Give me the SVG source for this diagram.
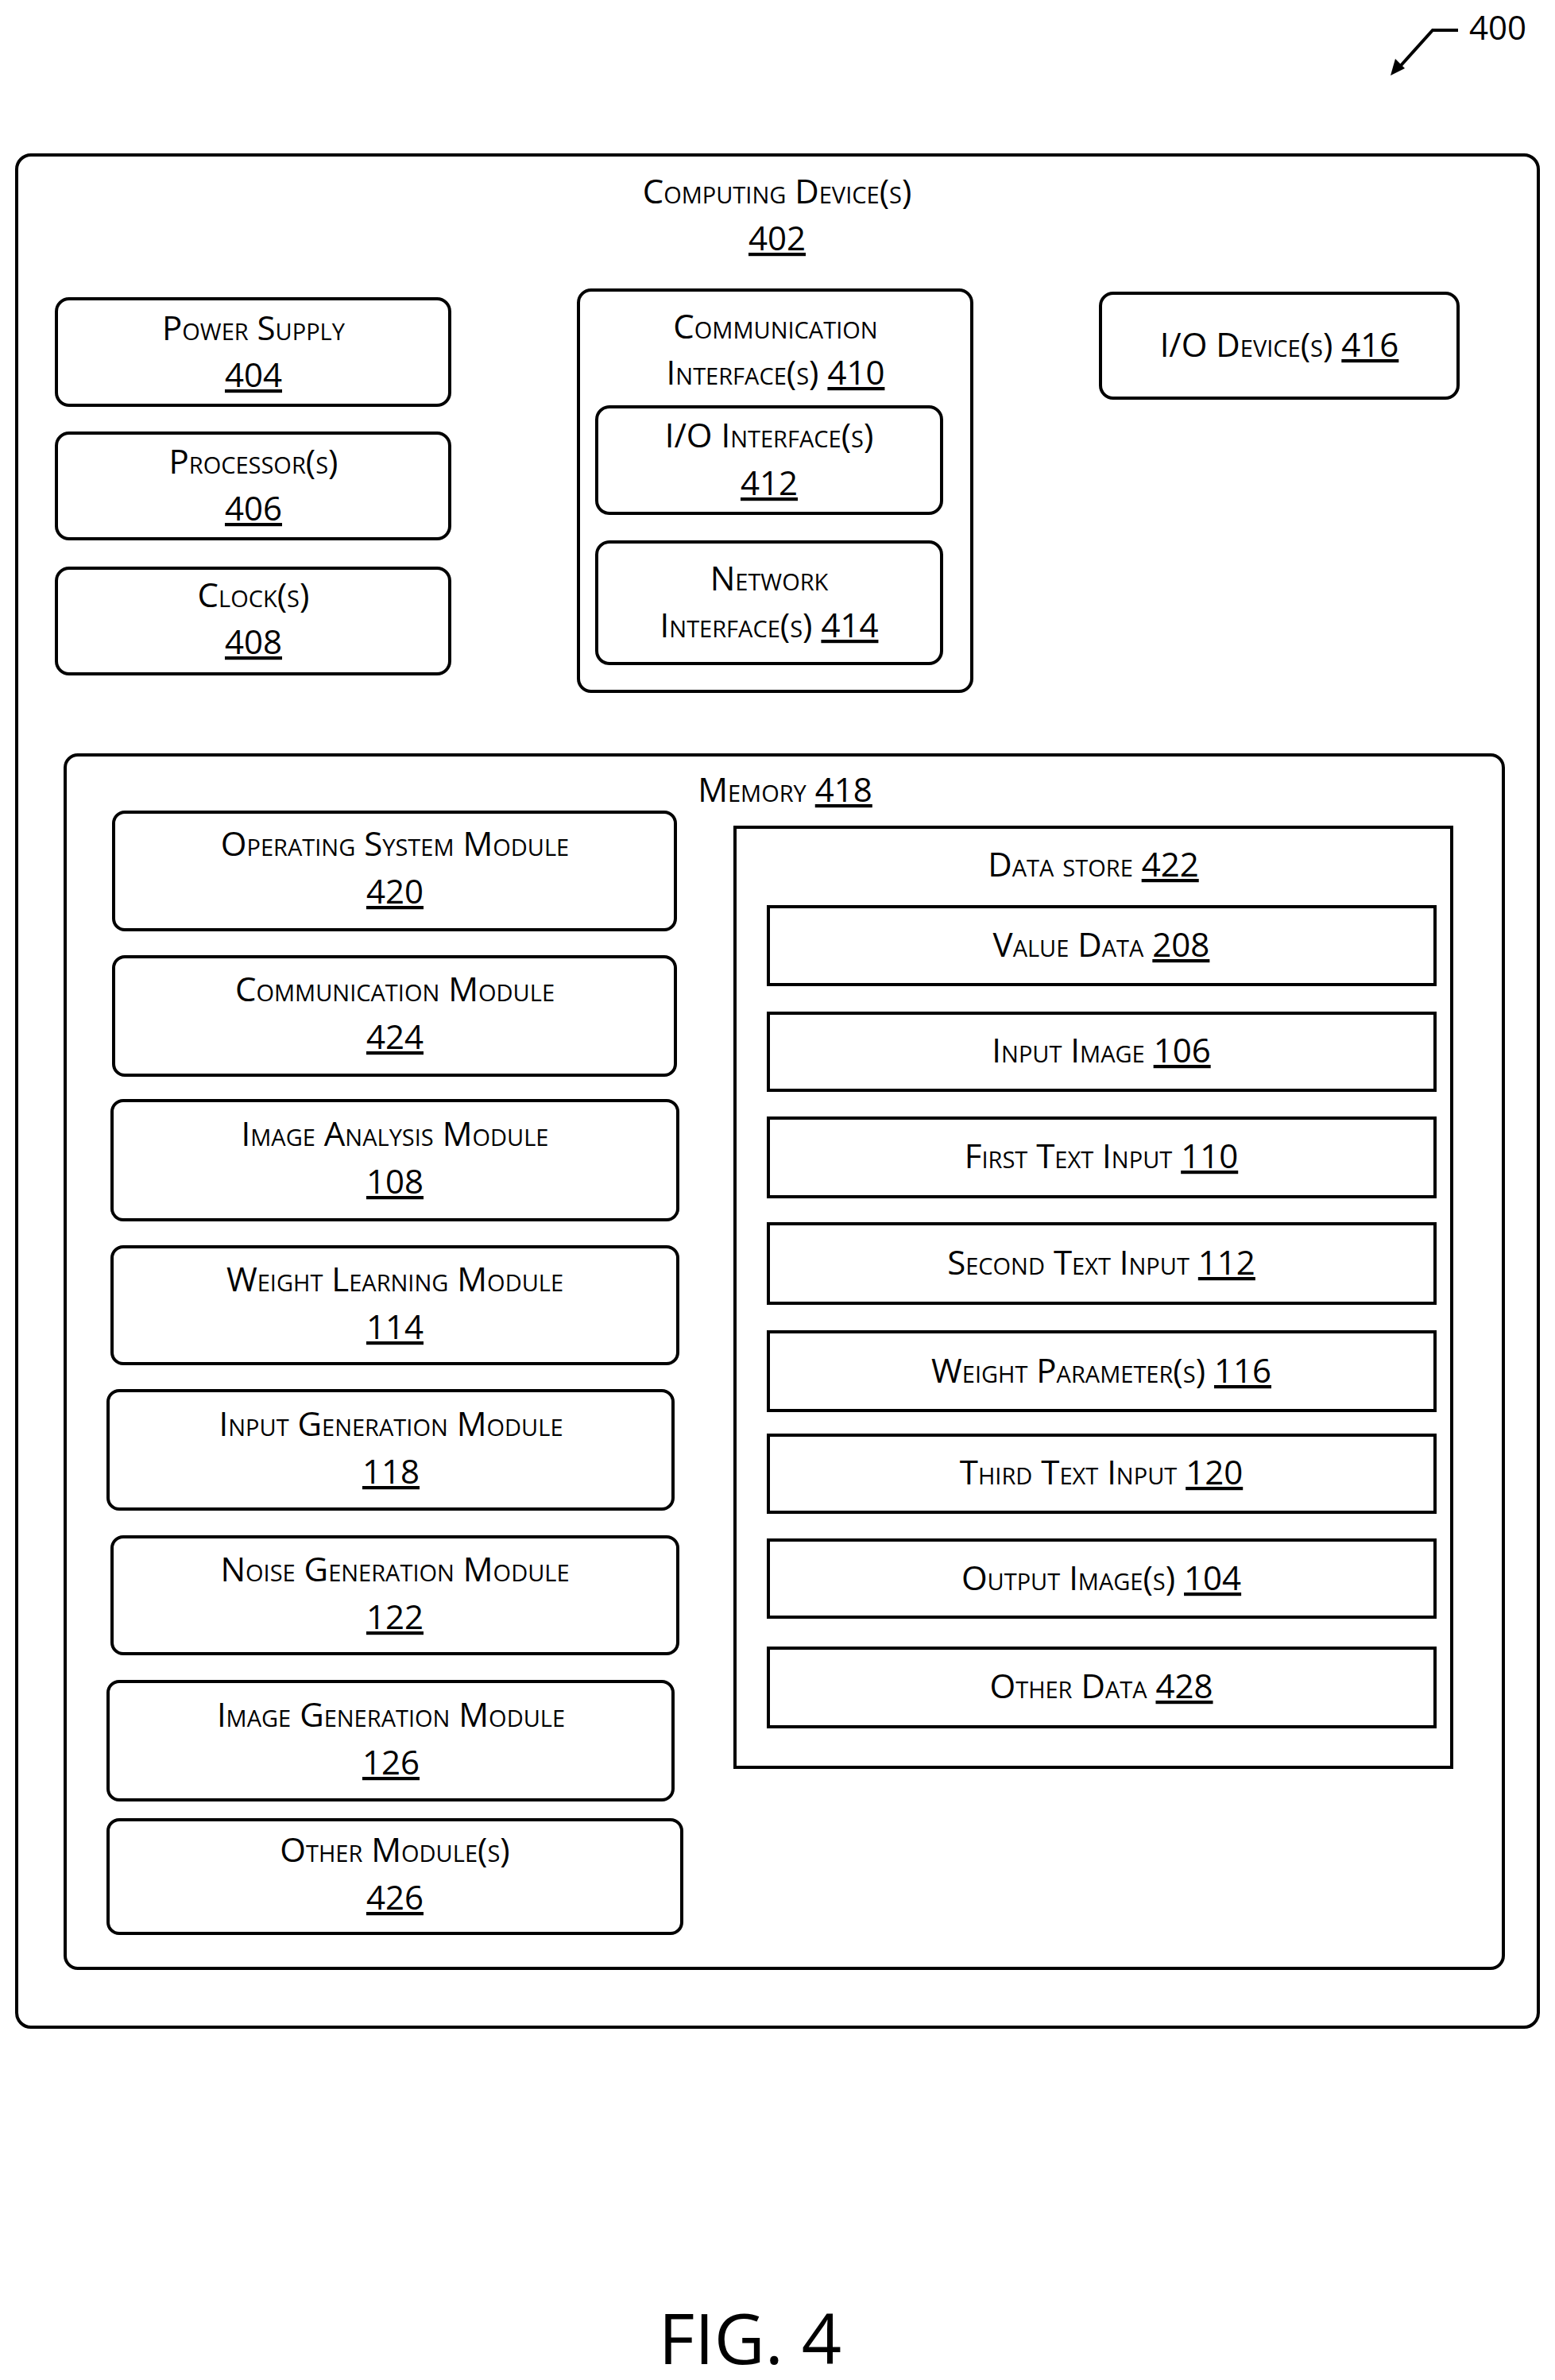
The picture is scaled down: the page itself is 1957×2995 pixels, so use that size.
<svg xmlns="http://www.w3.org/2000/svg" width="1957" height="2995" viewBox="0 0 1957 2995">
<style>
.b{fill:#fff;stroke:#000;stroke-width:4}
.s{fill:none;stroke:#000;stroke-width:4}
text{font-family:"Open Sans","Liberation Sans",sans-serif;font-size:42px;font-variant:small-caps;text-anchor:middle;fill:#000}
.u{text-decoration:underline}
</style>
<g id="ref400">
<text x="1885" y="50" style="font-variant:normal">400</text>
<path d="M1835,38 L1803,38 L1758,88" fill="none" stroke="#000" stroke-width="4"/>
<path d="M1750,95 L1756,74 L1768,86 Z" fill="#000"/>
</g>
<g id="n402"><rect class="s" x="21" y="195" width="1915" height="2356" rx="18"/>
<text x="978" y="256">Computing Device(s)</text><text x="978" y="315" class="u">402</text></g>
<g id="n404"><rect class="b" x="71" y="376" width="495" height="134" rx="16"/><text x="319" y="428">Power Supply</text><text x="319" y="487" class="u">404</text></g>
<g id="n406"><rect class="b" x="71" y="545" width="495" height="133" rx="16"/><text x="319" y="596">Processor(s)</text><text x="319" y="655" class="u">406</text></g>
<g id="n408"><rect class="b" x="71" y="715" width="495" height="133" rx="16"/><text x="319" y="764">Clock(s)</text><text x="319" y="823" class="u">408</text></g>
<g id="n410"><rect class="b" x="728" y="365" width="495" height="505" rx="16"/><text x="976" y="426">Communication</text><text x="976" y="484">Interface(s) <tspan class="u">410</tspan></text></g>
<g id="n412"><rect class="b" x="751" y="512" width="434" height="134" rx="16"/><text x="968" y="563">I/O Interface(s)</text><text x="968" y="623" class="u">412</text></g>
<g id="n414"><rect class="b" x="751" y="682" width="434" height="153" rx="16"/><text x="968" y="743">Network</text><text x="968" y="802">Interface(s) <tspan class="u">414</tspan></text></g>
<g id="n416"><rect class="b" x="1385" y="369" width="450" height="132" rx="16"/><text x="1610" y="449">I/O Device(s) <tspan class="u">416</tspan></text></g>
<g id="n418"><rect class="s" x="82" y="950" width="1810" height="1527" rx="16"/><text x="988" y="1009">Memory <tspan class="u">418</tspan></text></g>
<g id="n420"><rect class="b" x="143" y="1022" width="707" height="148" rx="14"/><text x="497" y="1077">Operating System Module</text><text x="497" y="1137" class="u">420</text></g>
<g id="n424"><rect class="b" x="143" y="1204" width="707" height="149" rx="14"/><text x="497" y="1260">Communication Module</text><text x="497" y="1320" class="u">424</text></g>
<g id="n108"><rect class="b" x="141" y="1385" width="712" height="150" rx="14"/><text x="497" y="1442">Image Analysis Module</text><text x="497" y="1502" class="u">108</text></g>
<g id="n114"><rect class="b" x="141" y="1569" width="712" height="147" rx="14"/><text x="497" y="1625">Weight Learning Module</text><text x="497" y="1685" class="u">114</text></g>
<g id="n118"><rect class="b" x="136" y="1750" width="711" height="149" rx="14"/><text x="492" y="1807">Input Generation Module</text><text x="492" y="1867" class="u">118</text></g>
<g id="n122"><rect class="b" x="141" y="1934" width="712" height="147" rx="14"/><text x="497" y="1990">Noise Generation Module</text><text x="497" y="2050" class="u">122</text></g>
<g id="n126"><rect class="b" x="136" y="2116" width="711" height="149" rx="14"/><text x="492" y="2173">Image Generation Module</text><text x="492" y="2233" class="u">126</text></g>
<g id="n426"><rect class="b" x="136" y="2290" width="722" height="143" rx="14"/><text x="497" y="2343">Other Module(s)</text><text x="497" y="2403" class="u">426</text></g>
<g id="n422"><rect class="s" x="925" y="1041" width="902" height="1183"/><text x="1376" y="1103">Data store <tspan class="u">422</tspan></text></g>
<g id="n208"><rect class="b" x="967" y="1141" width="839" height="98"/><text x="1386" y="1204">Value Data <tspan class="u">208</tspan></text></g>
<g id="n106"><rect class="b" x="967" y="1275" width="839" height="97"/><text x="1386" y="1337">Input Image  <tspan class="u">106</tspan></text></g>
<g id="n110"><rect class="b" x="967" y="1407" width="839" height="99"/><text x="1386" y="1470">First Text Input  <tspan class="u">110</tspan></text></g>
<g id="n112"><rect class="b" x="967" y="1540" width="839" height="100"/><text x="1386" y="1604">Second Text Input <tspan class="u">112</tspan></text></g>
<g id="n116"><rect class="b" x="967" y="1676" width="839" height="99"/><text x="1386" y="1740">Weight Parameter(s)  <tspan class="u">116</tspan></text></g>
<g id="n120"><rect class="b" x="967" y="1806" width="839" height="97"/><text x="1386" y="1868">Third Text Input  <tspan class="u">120</tspan></text></g>
<g id="n104"><rect class="b" x="967" y="1938" width="839" height="97"/><text x="1386" y="2001">Output Image(s)  <tspan class="u">104</tspan></text></g>
<g id="n428"><rect class="b" x="967" y="2074" width="839" height="99"/><text x="1386" y="2137">Other Data  <tspan class="u">428</tspan></text></g>
<g id="connectors"></g>
<text x="944" y="2975" style="font-size:88px;font-variant:normal">FIG. 4</text>
</svg>
